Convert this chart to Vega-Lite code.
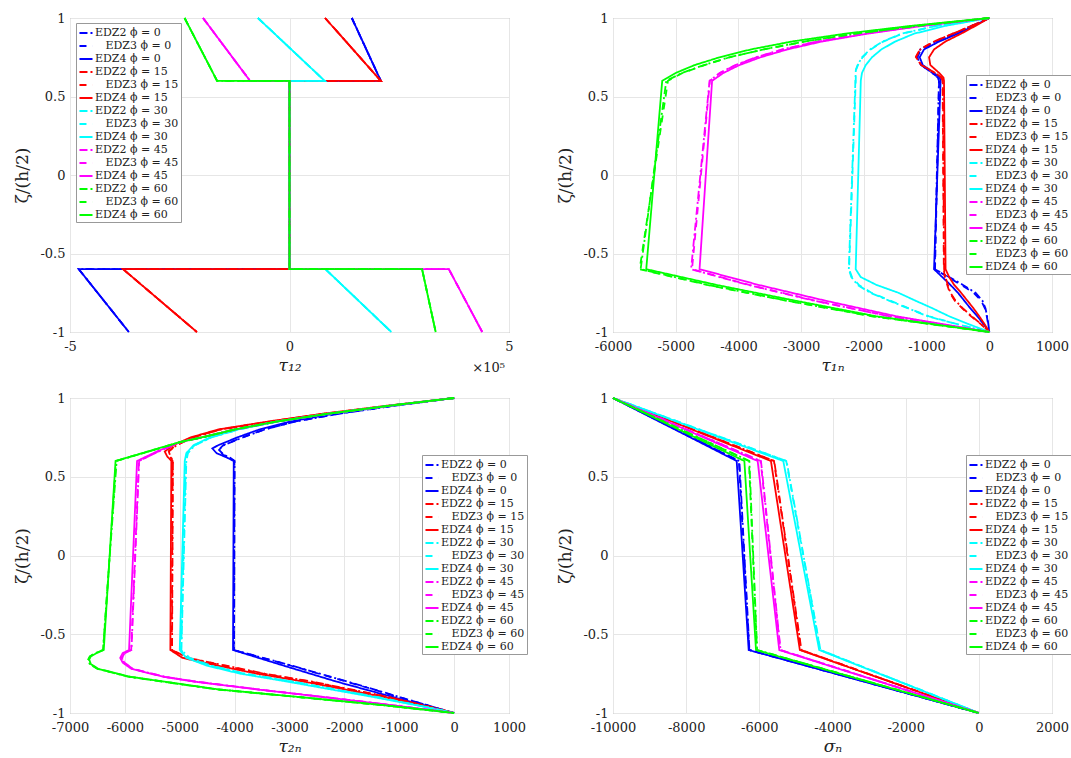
{
"$schema": "https://vega.github.io/schema/vega-lite/v6.json",
"background": "white",
"padding": {"left": 13, "top": 11, "right": 0, "bottom": 0},
"columns": 2,
"spacing": {"row": 66, "column": 104},
"bounds": "flush",
"resolve": {"scale": {"color": "independent", "strokeDash": "independent", "x": "independent", "y": "independent"}, "legend": {"color": "independent", "strokeDash": "independent"}},
"config": {
  "font": "DejaVu Serif",
  "view": {"stroke": "#999", "strokeWidth": 1},
  "text": {"font": "DejaVu Serif"},
  "axis": {"domain": false, "grid": true, "gridColor": "#e6e6e6", "ticks": false, "labelFont": "DejaVu Serif", "labelFontSize": 13, "labelColor": "#222", "titleFont": "DejaVu Serif", "titleFontSize": 17, "titleFontWeight": "normal", "titleColor": "#222", "labelPadding": 5, "labelFlush": false, "labelOverlap": false, "labelBound": false},
  "axisX": {"titlePadding": 4, "labelPadding": 8},
  "axisY": {"titlePadding": 8},
  "legend": {"fillColor": "white", "strokeColor": "#999", "padding": 2, "labelFont": "DejaVu Serif", "labelFontSize": 11, "labelColor": "#222", "symbolType": "stroke", "symbolSize": 170, "symbolStrokeWidth": 2, "rowPadding": -1.6, "labelOffset": 1, "labelLimit": 0}
},
"datasets": {
"p1": [
{"s":"b2","o":0,"z":1,"v":142000},{"s":"b2","o":1,"z":0.6,"v":208000},{"s":"b2","o":2,"z":0.6,"v":0},{"s":"b2","o":3,"z":-0.6,"v":0},{"s":"b2","o":4,"z":-0.6,"v":-480000},{"s":"b2","o":5,"z":-1,"v":-366000},
{"s":"b3","o":0,"z":1,"v":142000},{"s":"b3","o":1,"z":0.6,"v":208000},{"s":"b3","o":2,"z":0.6,"v":0},{"s":"b3","o":3,"z":-0.6,"v":0},{"s":"b3","o":4,"z":-0.6,"v":-480000},{"s":"b3","o":5,"z":-1,"v":-366000},
{"s":"b4","o":0,"z":1,"v":142000},{"s":"b4","o":1,"z":0.6,"v":208000},{"s":"b4","o":2,"z":0.6,"v":0},{"s":"b4","o":3,"z":-0.6,"v":0},{"s":"b4","o":4,"z":-0.6,"v":-480000},{"s":"b4","o":5,"z":-1,"v":-366000},
{"s":"r2","o":0,"z":1,"v":81000},{"s":"r2","o":1,"z":0.6,"v":208000},{"s":"r2","o":2,"z":0.6,"v":0},{"s":"r2","o":3,"z":-0.6,"v":0},{"s":"r2","o":4,"z":-0.6,"v":-379000},{"s":"r2","o":5,"z":-1,"v":-211000},
{"s":"r3","o":0,"z":1,"v":81000},{"s":"r3","o":1,"z":0.6,"v":208000},{"s":"r3","o":2,"z":0.6,"v":0},{"s":"r3","o":3,"z":-0.6,"v":0},{"s":"r3","o":4,"z":-0.6,"v":-379000},{"s":"r3","o":5,"z":-1,"v":-211000},
{"s":"r4","o":0,"z":1,"v":81000},{"s":"r4","o":1,"z":0.6,"v":208000},{"s":"r4","o":2,"z":0.6,"v":0},{"s":"r4","o":3,"z":-0.6,"v":0},{"s":"r4","o":4,"z":-0.6,"v":-379000},{"s":"r4","o":5,"z":-1,"v":-211000},
{"s":"c2","o":0,"z":1,"v":-72000},{"s":"c2","o":1,"z":0.6,"v":80000},{"s":"c2","o":2,"z":0.6,"v":0},{"s":"c2","o":3,"z":-0.6,"v":0},{"s":"c2","o":4,"z":-0.6,"v":82000},{"s":"c2","o":5,"z":-1,"v":232000},
{"s":"c3","o":0,"z":1,"v":-72000},{"s":"c3","o":1,"z":0.6,"v":80000},{"s":"c3","o":2,"z":0.6,"v":0},{"s":"c3","o":3,"z":-0.6,"v":0},{"s":"c3","o":4,"z":-0.6,"v":82000},{"s":"c3","o":5,"z":-1,"v":232000},
{"s":"c4","o":0,"z":1,"v":-72000},{"s":"c4","o":1,"z":0.6,"v":80000},{"s":"c4","o":2,"z":0.6,"v":0},{"s":"c4","o":3,"z":-0.6,"v":0},{"s":"c4","o":4,"z":-0.6,"v":82000},{"s":"c4","o":5,"z":-1,"v":232000},
{"s":"m2","o":0,"z":1,"v":-197000},{"s":"m2","o":1,"z":0.6,"v":-90000},{"s":"m2","o":2,"z":0.6,"v":0},{"s":"m2","o":3,"z":-0.6,"v":0},{"s":"m2","o":4,"z":-0.6,"v":363000},{"s":"m2","o":5,"z":-1,"v":439000},
{"s":"m3","o":0,"z":1,"v":-197000},{"s":"m3","o":1,"z":0.6,"v":-90000},{"s":"m3","o":2,"z":0.6,"v":0},{"s":"m3","o":3,"z":-0.6,"v":0},{"s":"m3","o":4,"z":-0.6,"v":363000},{"s":"m3","o":5,"z":-1,"v":439000},
{"s":"m4","o":0,"z":1,"v":-197000},{"s":"m4","o":1,"z":0.6,"v":-90000},{"s":"m4","o":2,"z":0.6,"v":0},{"s":"m4","o":3,"z":-0.6,"v":0},{"s":"m4","o":4,"z":-0.6,"v":363000},{"s":"m4","o":5,"z":-1,"v":439000},
{"s":"g2","o":0,"z":1,"v":-239000},{"s":"g2","o":1,"z":0.6,"v":-165000},{"s":"g2","o":2,"z":0.6,"v":0},{"s":"g2","o":3,"z":-0.6,"v":0},{"s":"g2","o":4,"z":-0.6,"v":302000},{"s":"g2","o":5,"z":-1,"v":333000},
{"s":"g3","o":0,"z":1,"v":-239000},{"s":"g3","o":1,"z":0.6,"v":-165000},{"s":"g3","o":2,"z":0.6,"v":0},{"s":"g3","o":3,"z":-0.6,"v":0},{"s":"g3","o":4,"z":-0.6,"v":302000},{"s":"g3","o":5,"z":-1,"v":333000},
{"s":"g4","o":0,"z":1,"v":-239000},{"s":"g4","o":1,"z":0.6,"v":-165000},{"s":"g4","o":2,"z":0.6,"v":0},{"s":"g4","o":3,"z":-0.6,"v":0},{"s":"g4","o":4,"z":-0.6,"v":302000},{"s":"g4","o":5,"z":-1,"v":333000}
],
"p2": [
{"s":"b2","z":1,"v":0},{"s":"b2","z":0.95,"v":-280},{"s":"b2","z":0.9,"v":-560},{"s":"b2","z":0.85,"v":-860},{"s":"b2","z":0.8,"v":-1100},{"s":"b2","z":0.75,"v":-1150},{"s":"b2","z":0.7,"v":-1090},{"s":"b2","z":0.65,"v":-910},{"s":"b2","z":0.62,"v":-820},{"s":"b2","z":0.6,"v":-803},{"s":"b2","z":-0.6,"v":-870},{"s":"b2","z":-0.65,"v":-640},{"s":"b2","z":-0.7,"v":-420},{"s":"b2","z":-0.75,"v":-220},{"s":"b2","z":-0.8,"v":-110},{"s":"b2","z":-0.85,"v":-60},{"s":"b2","z":-0.9,"v":-35},{"s":"b2","z":-0.95,"v":-15},{"s":"b2","z":-1,"v":0},
{"s":"b3","z":1,"v":0},{"s":"b3","z":0.95,"v":-275},{"s":"b3","z":0.9,"v":-550},{"s":"b3","z":0.85,"v":-850},{"s":"b3","z":0.8,"v":-1090},{"s":"b3","z":0.75,"v":-1145},{"s":"b3","z":0.7,"v":-1085},{"s":"b3","z":0.65,"v":-905},{"s":"b3","z":0.62,"v":-815},{"s":"b3","z":0.6,"v":-800},{"s":"b3","z":-0.6,"v":-865},{"s":"b3","z":-0.65,"v":-660},{"s":"b3","z":-0.7,"v":-450},{"s":"b3","z":-0.75,"v":-250},{"s":"b3","z":-0.8,"v":-130},{"s":"b3","z":-0.85,"v":-70},{"s":"b3","z":-0.9,"v":-40},{"s":"b3","z":-0.95,"v":-18},{"s":"b3","z":-1,"v":0},
{"s":"b4","z":1,"v":0},{"s":"b4","z":0.95,"v":-250},{"s":"b4","z":0.9,"v":-500},{"s":"b4","z":0.85,"v":-800},{"s":"b4","z":0.8,"v":-1040},{"s":"b4","z":0.75,"v":-1110},{"s":"b4","z":0.7,"v":-1060},{"s":"b4","z":0.65,"v":-880},{"s":"b4","z":0.62,"v":-790},{"s":"b4","z":0.6,"v":-776},{"s":"b4","z":-0.6,"v":-881},{"s":"b4","z":-0.65,"v":-750},{"s":"b4","z":-0.7,"v":-620},{"s":"b4","z":-0.75,"v":-500},{"s":"b4","z":-0.8,"v":-400},{"s":"b4","z":-0.85,"v":-300},{"s":"b4","z":-0.9,"v":-190},{"s":"b4","z":-0.95,"v":-90},{"s":"b4","z":-1,"v":0},
{"s":"r2","z":1,"v":0},{"s":"r2","z":0.95,"v":-280},{"s":"r2","z":0.9,"v":-580},{"s":"r2","z":0.85,"v":-880},{"s":"r2","z":0.8,"v":-1100},{"s":"r2","z":0.75,"v":-1170},{"s":"r2","z":0.7,"v":-1080},{"s":"r2","z":0.65,"v":-860},{"s":"r2","z":0.62,"v":-760},{"s":"r2","z":0.6,"v":-740},{"s":"r2","z":-0.6,"v":-720},{"s":"r2","z":-0.65,"v":-700},{"s":"r2","z":-0.7,"v":-660},{"s":"r2","z":-0.75,"v":-620},{"s":"r2","z":-0.8,"v":-540},{"s":"r2","z":-0.85,"v":-420},{"s":"r2","z":-0.9,"v":-280},{"s":"r2","z":-0.95,"v":-130},{"s":"r2","z":-1,"v":0},
{"s":"r3","z":1,"v":0},{"s":"r3","z":0.95,"v":-285},{"s":"r3","z":0.9,"v":-585},{"s":"r3","z":0.85,"v":-885},{"s":"r3","z":0.8,"v":-1105},{"s":"r3","z":0.75,"v":-1175},{"s":"r3","z":0.7,"v":-1085},{"s":"r3","z":0.65,"v":-865},{"s":"r3","z":0.62,"v":-765},{"s":"r3","z":0.6,"v":-745},{"s":"r3","z":-0.6,"v":-725},{"s":"r3","z":-0.65,"v":-710},{"s":"r3","z":-0.7,"v":-670},{"s":"r3","z":-0.75,"v":-630},{"s":"r3","z":-0.8,"v":-550},{"s":"r3","z":-0.85,"v":-430},{"s":"r3","z":-0.9,"v":-290},{"s":"r3","z":-0.95,"v":-135},{"s":"r3","z":-1,"v":0},
{"s":"r4","z":1,"v":0},{"s":"r4","z":0.95,"v":-220},{"s":"r4","z":0.9,"v":-450},{"s":"r4","z":0.85,"v":-700},{"s":"r4","z":0.8,"v":-880},{"s":"r4","z":0.75,"v":-960},{"s":"r4","z":0.7,"v":-940},{"s":"r4","z":0.65,"v":-800},{"s":"r4","z":0.62,"v":-730},{"s":"r4","z":0.6,"v":-722},{"s":"r4","z":-0.6,"v":-697},{"s":"r4","z":-0.65,"v":-640},{"s":"r4","z":-0.7,"v":-560},{"s":"r4","z":-0.75,"v":-450},{"s":"r4","z":-0.8,"v":-350},{"s":"r4","z":-0.85,"v":-250},{"s":"r4","z":-0.9,"v":-160},{"s":"r4","z":-0.95,"v":-75},{"s":"r4","z":-1,"v":0},
{"s":"c2","z":1,"v":0},{"s":"c2","z":0.95,"v":-850},{"s":"c2","z":0.9,"v":-1400},{"s":"c2","z":0.85,"v":-1700},{"s":"c2","z":0.8,"v":-1900},{"s":"c2","z":0.75,"v":-2030},{"s":"c2","z":0.7,"v":-2100},{"s":"c2","z":0.67,"v":-2128},{"s":"c2","z":0.6,"v":-2135},{"s":"c2","z":-0.6,"v":-2240},{"s":"c2","z":-0.65,"v":-2200},{"s":"c2","z":-0.7,"v":-2100},{"s":"c2","z":-0.75,"v":-1900},{"s":"c2","z":-0.8,"v":-1600},{"s":"c2","z":-0.85,"v":-1290},{"s":"c2","z":-0.9,"v":-980},{"s":"c2","z":-0.95,"v":-520},{"s":"c2","z":-1,"v":0},
{"s":"c3","z":1,"v":0},{"s":"c3","z":0.95,"v":-840},{"s":"c3","z":0.9,"v":-1390},{"s":"c3","z":0.85,"v":-1690},{"s":"c3","z":0.8,"v":-1890},{"s":"c3","z":0.75,"v":-2020},{"s":"c3","z":0.7,"v":-2095},{"s":"c3","z":0.67,"v":-2125},{"s":"c3","z":0.6,"v":-2130},{"s":"c3","z":-0.6,"v":-2235},{"s":"c3","z":-0.65,"v":-2190},{"s":"c3","z":-0.7,"v":-2080},{"s":"c3","z":-0.75,"v":-1880},{"s":"c3","z":-0.8,"v":-1580},{"s":"c3","z":-0.85,"v":-1280},{"s":"c3","z":-0.9,"v":-960},{"s":"c3","z":-0.95,"v":-510},{"s":"c3","z":-1,"v":0},
{"s":"c4","z":1,"v":0},{"s":"c4","z":0.95,"v":-700},{"s":"c4","z":0.9,"v":-1200},{"s":"c4","z":0.85,"v":-1500},{"s":"c4","z":0.8,"v":-1720},{"s":"c4","z":0.75,"v":-1870},{"s":"c4","z":0.7,"v":-1970},{"s":"c4","z":0.65,"v":-2030},{"s":"c4","z":0.6,"v":-2049},{"s":"c4","z":-0.6,"v":-2130},{"s":"c4","z":-0.65,"v":-2050},{"s":"c4","z":-0.7,"v":-1800},{"s":"c4","z":-0.75,"v":-1450},{"s":"c4","z":-0.8,"v":-1180},{"s":"c4","z":-0.85,"v":-900},{"s":"c4","z":-0.9,"v":-640},{"s":"c4","z":-0.95,"v":-330},{"s":"c4","z":-1,"v":0},
{"s":"m2","z":1,"v":0},{"s":"m2","z":0.95,"v":-1100},{"s":"m2","z":0.9,"v":-2000},{"s":"m2","z":0.85,"v":-2750},{"s":"m2","z":0.8,"v":-3300},{"s":"m2","z":0.75,"v":-3720},{"s":"m2","z":0.7,"v":-4050},{"s":"m2","z":0.65,"v":-4300},{"s":"m2","z":0.6,"v":-4460},{"s":"m2","z":-0.6,"v":-4755},{"s":"m2","z":-0.7,"v":-3850},{"s":"m2","z":-0.8,"v":-2800},{"s":"m2","z":-0.9,"v":-1600},{"s":"m2","z":-1,"v":0},
{"s":"m3","z":1,"v":0},{"s":"m3","z":0.95,"v":-1090},{"s":"m3","z":0.9,"v":-1990},{"s":"m3","z":0.85,"v":-2740},{"s":"m3","z":0.8,"v":-3290},{"s":"m3","z":0.75,"v":-3710},{"s":"m3","z":0.7,"v":-4040},{"s":"m3","z":0.65,"v":-4290},{"s":"m3","z":0.6,"v":-4455},{"s":"m3","z":-0.6,"v":-4740},{"s":"m3","z":-0.7,"v":-3830},{"s":"m3","z":-0.8,"v":-2780},{"s":"m3","z":-0.9,"v":-1590},{"s":"m3","z":-1,"v":0},
{"s":"m4","z":1,"v":0},{"s":"m4","z":0.95,"v":-1060},{"s":"m4","z":0.9,"v":-1950},{"s":"m4","z":0.85,"v":-2670},{"s":"m4","z":0.8,"v":-3220},{"s":"m4","z":0.75,"v":-3645},{"s":"m4","z":0.7,"v":-3985},{"s":"m4","z":0.65,"v":-4240},{"s":"m4","z":0.6,"v":-4420},{"s":"m4","z":-0.6,"v":-4620},{"s":"m4","z":-0.7,"v":-3680},{"s":"m4","z":-0.8,"v":-2620},{"s":"m4","z":-0.9,"v":-1480},{"s":"m4","z":-1,"v":0},
{"s":"g2","z":1,"v":0},{"s":"g2","z":0.95,"v":-1150},{"s":"g2","z":0.9,"v":-2150},{"s":"g2","z":0.85,"v":-2950},{"s":"g2","z":0.8,"v":-3600},{"s":"g2","z":0.75,"v":-4150},{"s":"g2","z":0.7,"v":-4550},{"s":"g2","z":0.65,"v":-4900},{"s":"g2","z":0.6,"v":-5150},{"s":"g2","z":-0.6,"v":-5560},{"s":"g2","z":-0.7,"v":-4480},{"s":"g2","z":-0.8,"v":-3230},{"s":"g2","z":-0.9,"v":-1850},{"s":"g2","z":-1,"v":0},
{"s":"g3","z":1,"v":0},{"s":"g3","z":0.95,"v":-1140},{"s":"g3","z":0.9,"v":-2140},{"s":"g3","z":0.85,"v":-2940},{"s":"g3","z":0.8,"v":-3590},{"s":"g3","z":0.75,"v":-4140},{"s":"g3","z":0.7,"v":-4540},{"s":"g3","z":0.65,"v":-4890},{"s":"g3","z":0.6,"v":-5124},{"s":"g3","z":-0.6,"v":-5575},{"s":"g3","z":-0.7,"v":-4500},{"s":"g3","z":-0.8,"v":-3250},{"s":"g3","z":-0.9,"v":-1870},{"s":"g3","z":-1,"v":0},
{"s":"g4","z":1,"v":0},{"s":"g4","z":0.95,"v":-1250},{"s":"g4","z":0.9,"v":-2300},{"s":"g4","z":0.85,"v":-3150},{"s":"g4","z":0.8,"v":-3800},{"s":"g4","z":0.75,"v":-4300},{"s":"g4","z":0.7,"v":-4700},{"s":"g4","z":0.65,"v":-5000},{"s":"g4","z":0.6,"v":-5215},{"s":"g4","z":-0.6,"v":-5470},{"s":"g4","z":-0.7,"v":-4350},{"s":"g4","z":-0.8,"v":-3100},{"s":"g4","z":-0.9,"v":-1800},{"s":"g4","z":-1,"v":0}
],
"p3": [
{"s":"b2","z":1,"v":0},{"s":"b2","z":0.95,"v":-1100},{"s":"b2","z":0.9,"v":-2100},{"s":"b2","z":0.85,"v":-2900},{"s":"b2","z":0.8,"v":-3450},{"s":"b2","z":0.75,"v":-3850},{"s":"b2","z":0.7,"v":-4200},{"s":"b2","z":0.67,"v":-4284},{"s":"b2","z":0.64,"v":-4200},{"s":"b2","z":0.62,"v":-4080},{"s":"b2","z":0.6,"v":-4000},{"s":"b2","z":-0.6,"v":-4010},{"s":"b2","z":-0.7,"v":-2950},{"s":"b2","z":-0.8,"v":-1950},{"s":"b2","z":-0.9,"v":-980},{"s":"b2","z":-1,"v":0},
{"s":"b3","z":1,"v":0},{"s":"b3","z":0.95,"v":-1105},{"s":"b3","z":0.9,"v":-2110},{"s":"b3","z":0.85,"v":-2910},{"s":"b3","z":0.8,"v":-3460},{"s":"b3","z":0.75,"v":-3860},{"s":"b3","z":0.7,"v":-4210},{"s":"b3","z":0.67,"v":-4290},{"s":"b3","z":0.64,"v":-4210},{"s":"b3","z":0.62,"v":-4090},{"s":"b3","z":0.6,"v":-4005},{"s":"b3","z":-0.6,"v":-4015},{"s":"b3","z":-0.7,"v":-2970},{"s":"b3","z":-0.8,"v":-1970},{"s":"b3","z":-0.9,"v":-990},{"s":"b3","z":-1,"v":0},
{"s":"b4","z":1,"v":0},{"s":"b4","z":0.95,"v":-1150},{"s":"b4","z":0.9,"v":-2200},{"s":"b4","z":0.85,"v":-3000},{"s":"b4","z":0.8,"v":-3550},{"s":"b4","z":0.75,"v":-3950},{"s":"b4","z":0.7,"v":-4300},{"s":"b4","z":0.68,"v":-4406},{"s":"b4","z":0.65,"v":-4330},{"s":"b4","z":0.62,"v":-4130},{"s":"b4","z":0.6,"v":-4016},{"s":"b4","z":-0.6,"v":-4029},{"s":"b4","z":-0.7,"v":-3100},{"s":"b4","z":-0.8,"v":-2150},{"s":"b4","z":-0.9,"v":-1100},{"s":"b4","z":-1,"v":0},
{"s":"r2","z":1,"v":0},{"s":"r2","z":0.95,"v":-1200},{"s":"r2","z":0.9,"v":-2350},{"s":"r2","z":0.85,"v":-3350},{"s":"r2","z":0.8,"v":-4250},{"s":"r2","z":0.75,"v":-4750},{"s":"r2","z":0.7,"v":-5060},{"s":"r2","z":0.66,"v":-5200},{"s":"r2","z":0.63,"v":-5170},{"s":"r2","z":0.6,"v":-5124},{"s":"r2","z":-0.6,"v":-5140},{"s":"r2","z":-0.65,"v":-4850},{"s":"r2","z":-0.7,"v":-4150},{"s":"r2","z":-0.75,"v":-3450},{"s":"r2","z":-0.8,"v":-2600},{"s":"r2","z":-0.85,"v":-1880},{"s":"r2","z":-0.9,"v":-1170},{"s":"r2","z":-0.95,"v":-560},{"s":"r2","z":-1,"v":0},
{"s":"r3","z":1,"v":0},{"s":"r3","z":0.95,"v":-1210},{"s":"r3","z":0.9,"v":-2360},{"s":"r3","z":0.85,"v":-3360},{"s":"r3","z":0.8,"v":-4260},{"s":"r3","z":0.75,"v":-4760},{"s":"r3","z":0.7,"v":-5070},{"s":"r3","z":0.66,"v":-5210},{"s":"r3","z":0.63,"v":-5180},{"s":"r3","z":0.6,"v":-5130},{"s":"r3","z":-0.6,"v":-5145},{"s":"r3","z":-0.65,"v":-4870},{"s":"r3","z":-0.7,"v":-4180},{"s":"r3","z":-0.75,"v":-3480},{"s":"r3","z":-0.8,"v":-2630},{"s":"r3","z":-0.85,"v":-1910},{"s":"r3","z":-0.9,"v":-1190},{"s":"r3","z":-0.95,"v":-570},{"s":"r3","z":-1,"v":0},
{"s":"r4","z":1,"v":0},{"s":"r4","z":0.95,"v":-1250},{"s":"r4","z":0.9,"v":-2400},{"s":"r4","z":0.85,"v":-3400},{"s":"r4","z":0.8,"v":-4300},{"s":"r4","z":0.75,"v":-4800},{"s":"r4","z":0.7,"v":-5120},{"s":"r4","z":0.66,"v":-5273},{"s":"r4","z":0.63,"v":-5230},{"s":"r4","z":0.6,"v":-5153},{"s":"r4","z":-0.6,"v":-5171},{"s":"r4","z":-0.65,"v":-4950},{"s":"r4","z":-0.7,"v":-4300},{"s":"r4","z":-0.75,"v":-3600},{"s":"r4","z":-0.8,"v":-2750},{"s":"r4","z":-0.85,"v":-2000},{"s":"r4","z":-0.9,"v":-1250},{"s":"r4","z":-0.95,"v":-600},{"s":"r4","z":-1,"v":0},
{"s":"c2","z":1,"v":0},{"s":"c2","z":0.95,"v":-1180},{"s":"c2","z":0.9,"v":-2280},{"s":"c2","z":0.85,"v":-3220},{"s":"c2","z":0.8,"v":-3920},{"s":"c2","z":0.75,"v":-4420},{"s":"c2","z":0.7,"v":-4720},{"s":"c2","z":0.65,"v":-4850},{"s":"c2","z":0.6,"v":-4880},{"s":"c2","z":-0.6,"v":-4970},{"s":"c2","z":-0.65,"v":-4820},{"s":"c2","z":-0.7,"v":-4420},{"s":"c2","z":-0.75,"v":-3800},{"s":"c2","z":-0.8,"v":-2950},{"s":"c2","z":-0.85,"v":-2150},{"s":"c2","z":-0.9,"v":-1380},{"s":"c2","z":-0.95,"v":-660},{"s":"c2","z":-1,"v":0},
{"s":"c3","z":1,"v":0},{"s":"c3","z":0.95,"v":-1185},{"s":"c3","z":0.9,"v":-2285},{"s":"c3","z":0.85,"v":-3230},{"s":"c3","z":0.8,"v":-3930},{"s":"c3","z":0.75,"v":-4430},{"s":"c3","z":0.7,"v":-4730},{"s":"c3","z":0.65,"v":-4860},{"s":"c3","z":0.6,"v":-4890},{"s":"c3","z":-0.6,"v":-4975},{"s":"c3","z":-0.65,"v":-4840},{"s":"c3","z":-0.7,"v":-4440},{"s":"c3","z":-0.75,"v":-3830},{"s":"c3","z":-0.8,"v":-2980},{"s":"c3","z":-0.85,"v":-2180},{"s":"c3","z":-0.9,"v":-1400},{"s":"c3","z":-0.95,"v":-670},{"s":"c3","z":-1,"v":0},
{"s":"c4","z":1,"v":0},{"s":"c4","z":0.95,"v":-1200},{"s":"c4","z":0.9,"v":-2300},{"s":"c4","z":0.85,"v":-3250},{"s":"c4","z":0.8,"v":-3950},{"s":"c4","z":0.75,"v":-4450},{"s":"c4","z":0.7,"v":-4750},{"s":"c4","z":0.65,"v":-4880},{"s":"c4","z":0.6,"v":-4909},{"s":"c4","z":-0.6,"v":-5000},{"s":"c4","z":-0.65,"v":-4880},{"s":"c4","z":-0.7,"v":-4500},{"s":"c4","z":-0.75,"v":-3900},{"s":"c4","z":-0.8,"v":-3050},{"s":"c4","z":-0.85,"v":-2250},{"s":"c4","z":-0.9,"v":-1450},{"s":"c4","z":-0.95,"v":-700},{"s":"c4","z":-1,"v":0},
{"s":"m2","z":1,"v":0},{"s":"m2","z":0.95,"v":-1190},{"s":"m2","z":0.9,"v":-2290},{"s":"m2","z":0.85,"v":-3240},{"s":"m2","z":0.8,"v":-3990},{"s":"m2","z":0.75,"v":-4590},{"s":"m2","z":0.72,"v":-4980},{"s":"m2","z":0.66,"v":-5390},{"s":"m2","z":0.6,"v":-5740},{"s":"m2","z":-0.6,"v":-5880},{"s":"m2","z":-0.62,"v":-6000},{"s":"m2","z":-0.65,"v":-6050},{"s":"m2","z":-0.68,"v":-6010},{"s":"m2","z":-0.72,"v":-5850},{"s":"m2","z":-0.77,"v":-5270},{"s":"m2","z":-0.8,"v":-4720},{"s":"m2","z":-0.85,"v":-3570},{"s":"m2","z":-0.9,"v":-2330},{"s":"m2","z":-0.95,"v":-1140},{"s":"m2","z":-1,"v":0},
{"s":"m3","z":1,"v":0},{"s":"m3","z":0.95,"v":-1195},{"s":"m3","z":0.9,"v":-2295},{"s":"m3","z":0.85,"v":-3245},{"s":"m3","z":0.8,"v":-3995},{"s":"m3","z":0.75,"v":-4595},{"s":"m3","z":0.72,"v":-4985},{"s":"m3","z":0.66,"v":-5395},{"s":"m3","z":0.6,"v":-5745},{"s":"m3","z":-0.6,"v":-5885},{"s":"m3","z":-0.62,"v":-6005},{"s":"m3","z":-0.65,"v":-6055},{"s":"m3","z":-0.68,"v":-6015},{"s":"m3","z":-0.72,"v":-5855},{"s":"m3","z":-0.77,"v":-5275},{"s":"m3","z":-0.8,"v":-4725},{"s":"m3","z":-0.85,"v":-3575},{"s":"m3","z":-0.9,"v":-2335},{"s":"m3","z":-0.95,"v":-1145},{"s":"m3","z":-1,"v":0},
{"s":"m4","z":1,"v":0},{"s":"m4","z":0.95,"v":-1200},{"s":"m4","z":0.9,"v":-2300},{"s":"m4","z":0.85,"v":-3250},{"s":"m4","z":0.8,"v":-4000},{"s":"m4","z":0.75,"v":-4600},{"s":"m4","z":0.72,"v":-5000},{"s":"m4","z":0.66,"v":-5420},{"s":"m4","z":0.6,"v":-5778},{"s":"m4","z":-0.6,"v":-5924},{"s":"m4","z":-0.62,"v":-6040},{"s":"m4","z":-0.65,"v":-6085},{"s":"m4","z":-0.68,"v":-6040},{"s":"m4","z":-0.72,"v":-5880},{"s":"m4","z":-0.77,"v":-5300},{"s":"m4","z":-0.8,"v":-4750},{"s":"m4","z":-0.85,"v":-3600},{"s":"m4","z":-0.9,"v":-2350},{"s":"m4","z":-0.95,"v":-1150},{"s":"m4","z":-1,"v":0},
{"s":"g2","z":1,"v":0},{"s":"g2","z":0.95,"v":-1195},{"s":"g2","z":0.9,"v":-2295},{"s":"g2","z":0.85,"v":-3245},{"s":"g2","z":0.8,"v":-3995},{"s":"g2","z":0.75,"v":-4590},{"s":"g2","z":0.72,"v":-4990},{"s":"g2","z":0.6,"v":-6150},{"s":"g2","z":-0.6,"v":-6400},{"s":"g2","z":-0.62,"v":-6540},{"s":"g2","z":-0.64,"v":-6640},{"s":"g2","z":-0.66,"v":-6670},{"s":"g2","z":-0.69,"v":-6640},{"s":"g2","z":-0.72,"v":-6500},{"s":"g2","z":-0.77,"v":-5930},{"s":"g2","z":-0.8,"v":-5330},{"s":"g2","z":-0.85,"v":-4330},{"s":"g2","z":-0.9,"v":-2800},{"s":"g2","z":-0.95,"v":-1310},{"s":"g2","z":-1,"v":0},
{"s":"g3","z":1,"v":0},{"s":"g3","z":0.95,"v":-1198},{"s":"g3","z":0.9,"v":-2298},{"s":"g3","z":0.85,"v":-3248},{"s":"g3","z":0.8,"v":-3998},{"s":"g3","z":0.75,"v":-4595},{"s":"g3","z":0.72,"v":-4995},{"s":"g3","z":0.6,"v":-6160},{"s":"g3","z":-0.6,"v":-6395},{"s":"g3","z":-0.62,"v":-6530},{"s":"g3","z":-0.64,"v":-6630},{"s":"g3","z":-0.66,"v":-6660},{"s":"g3","z":-0.69,"v":-6630},{"s":"g3","z":-0.72,"v":-6490},{"s":"g3","z":-0.77,"v":-5915},{"s":"g3","z":-0.8,"v":-5315},{"s":"g3","z":-0.85,"v":-4315},{"s":"g3","z":-0.9,"v":-2790},{"s":"g3","z":-0.95,"v":-1305},{"s":"g3","z":-1,"v":0},
{"s":"g4","z":1,"v":0},{"s":"g4","z":0.95,"v":-1200},{"s":"g4","z":0.9,"v":-2300},{"s":"g4","z":0.85,"v":-3250},{"s":"g4","z":0.8,"v":-4000},{"s":"g4","z":0.75,"v":-4600},{"s":"g4","z":0.72,"v":-5000},{"s":"g4","z":0.6,"v":-6170},{"s":"g4","z":-0.6,"v":-6385},{"s":"g4","z":-0.62,"v":-6520},{"s":"g4","z":-0.64,"v":-6620},{"s":"g4","z":-0.66,"v":-6650},{"s":"g4","z":-0.69,"v":-6620},{"s":"g4","z":-0.72,"v":-6480},{"s":"g4","z":-0.77,"v":-5900},{"s":"g4","z":-0.8,"v":-5300},{"s":"g4","z":-0.85,"v":-4300},{"s":"g4","z":-0.9,"v":-2780},{"s":"g4","z":-0.95,"v":-1300},{"s":"g4","z":-1,"v":0}
],
"p4": [
{"s":"b2","z":1,"v":-10000},{"s":"b2","z":0.6,"v":-6546},{"s":"b2","z":-0.6,"v":-6270},{"s":"b2","z":-1,"v":0},
{"s":"b3","z":1,"v":-10000},{"s":"b3","z":0.6,"v":-6560},{"s":"b3","z":-0.6,"v":-6275},{"s":"b3","z":-1,"v":0},
{"s":"b4","z":1,"v":-10000},{"s":"b4","z":0.6,"v":-6619},{"s":"b4","z":-0.6,"v":-6291},{"s":"b4","z":-1,"v":0},
{"s":"r2","z":1,"v":-10000},{"s":"r2","z":0.6,"v":-5592},{"s":"r2","z":-0.6,"v":-4850},{"s":"r2","z":-1,"v":0},
{"s":"r3","z":1,"v":-10000},{"s":"r3","z":0.6,"v":-5600},{"s":"r3","z":-0.6,"v":-4860},{"s":"r3","z":-1,"v":0},
{"s":"r4","z":1,"v":-10000},{"s":"r4","z":0.6,"v":-5683},{"s":"r4","z":-0.6,"v":-4892},{"s":"r4","z":-1,"v":0},
{"s":"c2","z":1,"v":-10000},{"s":"c2","z":0.6,"v":-5255},{"s":"c2","z":-0.6,"v":-4330},{"s":"c2","z":-1,"v":0},
{"s":"c3","z":1,"v":-10000},{"s":"c3","z":0.6,"v":-5265},{"s":"c3","z":-0.6,"v":-4335},{"s":"c3","z":-1,"v":0},
{"s":"c4","z":1,"v":-10000},{"s":"c4","z":0.6,"v":-5345},{"s":"c4","z":-0.6,"v":-4364},{"s":"c4","z":-1,"v":0},
{"s":"m2","z":1,"v":-10000},{"s":"m2","z":0.6,"v":-5955},{"s":"m2","z":-0.6,"v":-5420},{"s":"m2","z":-1,"v":0},
{"s":"m3","z":1,"v":-10000},{"s":"m3","z":0.6,"v":-5965},{"s":"m3","z":-0.6,"v":-5425},{"s":"m3","z":-1,"v":0},
{"s":"m4","z":1,"v":-10000},{"s":"m4","z":0.6,"v":-6046},{"s":"m4","z":-0.6,"v":-5455},{"s":"m4","z":-1,"v":0},
{"s":"g2","z":1,"v":-10000},{"s":"g2","z":0.6,"v":-6273},{"s":"g2","z":-0.6,"v":-6060},{"s":"g2","z":-1,"v":0},
{"s":"g3","z":1,"v":-10000},{"s":"g3","z":0.6,"v":-6285},{"s":"g3","z":-0.6,"v":-6065},{"s":"g3","z":-1,"v":0},
{"s":"g4","z":1,"v":-10000},{"s":"g4","z":0.6,"v":-6409},{"s":"g4","z":-0.6,"v":-6091},{"s":"g4","z":-1,"v":0}
]
},
"concat": [
{
 "width": 439, "height": 314,
 "layer": [
  {
   "data": {"name": "p1"},
   "mark": {"type": "line", "strokeWidth": 1.8},
   "encoding": {
    "x": {"field": "v", "type": "quantitative", "scale": {"domain": [-500000, 500000], "nice": false, "zero": false}, "axis": {"title": "τ₁₂", "titleFontStyle": "italic", "values": [-500000, 0, 500000], "labelExpr": "'' + datum.value/100000"}},
    "y": {"field": "z", "type": "quantitative", "scale": {"domain": [-1, 1], "nice": false}, "axis": {"title": "ζ/(h/2)", "values": [-1, -0.5, 0, 0.5, 1], "labelExpr": "'' + datum.value"}},
    "order": {"field": "o", "type": "quantitative"},
    "color": {"field": "s", "type": "nominal", "scale": {"domain": ["b2","b3","b4","r2","r3","r4","c2","c3","c4","m2","m3","m4","g2","g3","g4"], "range": ["#0000ff","#0000ff","#0000ff","#ff0000","#ff0000","#ff0000","#00ffff","#00ffff","#00ffff","#ff00ff","#ff00ff","#ff00ff","#00ff00","#00ff00","#00ff00"]}, "legend": {"title": null, "orient": "none", "legendX": 6, "legendY": 5, "labelExpr": "(substring(datum.label,1,2)=='3' ? '\u200b\u00a0\u00a0\u00a0' : '') + 'EDZ' + substring(datum.label,1,2) + ' ϕ = ' + ['0','15','30','45','60'][indexof('brcmg', substring(datum.label,0,1))]"}},
    "strokeDash": {"field": "s", "type": "nominal", "scale": {"domain": ["b2","b3","b4","r2","r3","r4","c2","c3","c4","m2","m3","m4","g2","g3","g4"], "range": [[8,3,2,3],[7,6],[1,0],[8,3,2,3],[7,6],[1,0],[8,3,2,3],[7,6],[1,0],[8,3,2,3],[7,6],[1,0],[8,3,2,3],[7,6],[1,0]]}, "legend": {"title": null, "orient": "none", "legendX": 6, "legendY": 5, "labelExpr": "(substring(datum.label,1,2)=='3' ? '\u200b\u00a0\u00a0\u00a0' : '') + 'EDZ' + substring(datum.label,1,2) + ' ϕ = ' + ['0','15','30','45','60'][indexof('brcmg', substring(datum.label,0,1))]"}}
   }
  },
  {
   "data": {"values": [{}]},
   "mark": {"type": "text", "align": "right", "baseline": "middle", "dx": -4, "dy": 36, "fontSize": 13, "font": "DejaVu Serif", "color": "#222"},
   "encoding": {"x": {"datum": 500000}, "y": {"datum": -1}, "text": {"value": "×10⁵"}}
  }
 ]
},
{
 "width": 439, "height": 314,
 "data": {"name": "p2"},
 "mark": {"type": "line", "strokeWidth": 1.8},
 "encoding": {
  "x": {"field": "v", "type": "quantitative", "scale": {"domain": [-6000, 1000], "nice": false, "zero": false}, "axis": {"title": "τ₁ₙ", "titleFontStyle": "italic", "values": [-6000,-5000,-4000,-3000,-2000,-1000,0,1000], "labelExpr": "'' + datum.value"}},
  "y": {"field": "z", "type": "quantitative", "scale": {"domain": [-1, 1], "nice": false}, "axis": {"title": "ζ/(h/2)", "values": [-1, -0.5, 0, 0.5, 1], "labelExpr": "'' + datum.value"}},
  "order": {"field": "z", "type": "quantitative", "sort": "descending"},
  "color": {"field": "s", "type": "nominal", "scale": {"domain": ["b2","b3","b4","r2","r3","r4","c2","c3","c4","m2","m3","m4","g2","g3","g4"], "range": ["#0000ff","#0000ff","#0000ff","#ff0000","#ff0000","#ff0000","#00ffff","#00ffff","#00ffff","#ff00ff","#ff00ff","#ff00ff","#00ff00","#00ff00","#00ff00"]}, "legend": {"title": null, "orient": "none", "legendX": 353, "legendY": 57, "labelExpr": "(substring(datum.label,1,2)=='3' ? '\u200b\u00a0\u00a0\u00a0' : '') + 'EDZ' + substring(datum.label,1,2) + ' ϕ = ' + ['0','15','30','45','60'][indexof('brcmg', substring(datum.label,0,1))]"}},
  "strokeDash": {"field": "s", "type": "nominal", "scale": {"domain": ["b2","b3","b4","r2","r3","r4","c2","c3","c4","m2","m3","m4","g2","g3","g4"], "range": [[8,3,2,3],[7,6],[1,0],[8,3,2,3],[7,6],[1,0],[8,3,2,3],[7,6],[1,0],[8,3,2,3],[7,6],[1,0],[8,3,2,3],[7,6],[1,0]]}, "legend": {"title": null, "orient": "none", "legendX": 353, "legendY": 57, "labelExpr": "(substring(datum.label,1,2)=='3' ? '\u200b\u00a0\u00a0\u00a0' : '') + 'EDZ' + substring(datum.label,1,2) + ' ϕ = ' + ['0','15','30','45','60'][indexof('brcmg', substring(datum.label,0,1))]"}}
 }
},
{
 "width": 439, "height": 315,
 "data": {"name": "p3"},
 "mark": {"type": "line", "strokeWidth": 1.8},
 "encoding": {
  "x": {"field": "v", "type": "quantitative", "scale": {"domain": [-7000, 1000], "nice": false, "zero": false}, "axis": {"title": "τ₂ₙ", "titleFontStyle": "italic", "values": [-7000,-6000,-5000,-4000,-3000,-2000,-1000,0,1000], "labelExpr": "'' + datum.value"}},
  "y": {"field": "z", "type": "quantitative", "scale": {"domain": [-1, 1], "nice": false}, "axis": {"title": "ζ/(h/2)", "values": [-1, -0.5, 0, 0.5, 1], "labelExpr": "'' + datum.value"}},
  "order": {"field": "z", "type": "quantitative", "sort": "descending"},
  "color": {"field": "s", "type": "nominal", "scale": {"domain": ["b2","b3","b4","r2","r3","r4","c2","c3","c4","m2","m3","m4","g2","g3","g4"], "range": ["#0000ff","#0000ff","#0000ff","#ff0000","#ff0000","#ff0000","#00ffff","#00ffff","#00ffff","#ff00ff","#ff00ff","#ff00ff","#00ff00","#00ff00","#00ff00"]}, "legend": {"title": null, "orient": "none", "legendX": 352, "legendY": 57, "labelExpr": "(substring(datum.label,1,2)=='3' ? '\u200b\u00a0\u00a0\u00a0' : '') + 'EDZ' + substring(datum.label,1,2) + ' ϕ = ' + ['0','15','30','45','60'][indexof('brcmg', substring(datum.label,0,1))]"}},
  "strokeDash": {"field": "s", "type": "nominal", "scale": {"domain": ["b2","b3","b4","r2","r3","r4","c2","c3","c4","m2","m3","m4","g2","g3","g4"], "range": [[8,3,2,3],[7,6],[1,0],[8,3,2,3],[7,6],[1,0],[8,3,2,3],[7,6],[1,0],[8,3,2,3],[7,6],[1,0],[8,3,2,3],[7,6],[1,0]]}, "legend": {"title": null, "orient": "none", "legendX": 352, "legendY": 57, "labelExpr": "(substring(datum.label,1,2)=='3' ? '\u200b\u00a0\u00a0\u00a0' : '') + 'EDZ' + substring(datum.label,1,2) + ' ϕ = ' + ['0','15','30','45','60'][indexof('brcmg', substring(datum.label,0,1))]"}}
 }
},
{
 "width": 439, "height": 315,
 "data": {"name": "p4"},
 "mark": {"type": "line", "strokeWidth": 1.8},
 "encoding": {
  "x": {"field": "v", "type": "quantitative", "scale": {"domain": [-10000, 2000], "nice": false, "zero": false}, "axis": {"title": "σₙ", "titleFontStyle": "italic", "values": [-10000,-8000,-6000,-4000,-2000,0,2000], "labelExpr": "'' + datum.value"}},
  "y": {"field": "z", "type": "quantitative", "scale": {"domain": [-1, 1], "nice": false}, "axis": {"title": "ζ/(h/2)", "values": [-1, -0.5, 0, 0.5, 1], "labelExpr": "'' + datum.value"}},
  "order": {"field": "z", "type": "quantitative", "sort": "descending"},
  "color": {"field": "s", "type": "nominal", "scale": {"domain": ["b2","b3","b4","r2","r3","r4","c2","c3","c4","m2","m3","m4","g2","g3","g4"], "range": ["#0000ff","#0000ff","#0000ff","#ff0000","#ff0000","#ff0000","#00ffff","#00ffff","#00ffff","#ff00ff","#ff00ff","#ff00ff","#00ff00","#00ff00","#00ff00"]}, "legend": {"title": null, "orient": "none", "legendX": 353, "legendY": 57, "labelExpr": "(substring(datum.label,1,2)=='3' ? '\u200b\u00a0\u00a0\u00a0' : '') + 'EDZ' + substring(datum.label,1,2) + ' ϕ = ' + ['0','15','30','45','60'][indexof('brcmg', substring(datum.label,0,1))]"}},
  "strokeDash": {"field": "s", "type": "nominal", "scale": {"domain": ["b2","b3","b4","r2","r3","r4","c2","c3","c4","m2","m3","m4","g2","g3","g4"], "range": [[8,3,2,3],[7,6],[1,0],[8,3,2,3],[7,6],[1,0],[8,3,2,3],[7,6],[1,0],[8,3,2,3],[7,6],[1,0],[8,3,2,3],[7,6],[1,0]]}, "legend": {"title": null, "orient": "none", "legendX": 353, "legendY": 57, "labelExpr": "(substring(datum.label,1,2)=='3' ? '\u200b\u00a0\u00a0\u00a0' : '') + 'EDZ' + substring(datum.label,1,2) + ' ϕ = ' + ['0','15','30','45','60'][indexof('brcmg', substring(datum.label,0,1))]"}}
 }
}
]
}
